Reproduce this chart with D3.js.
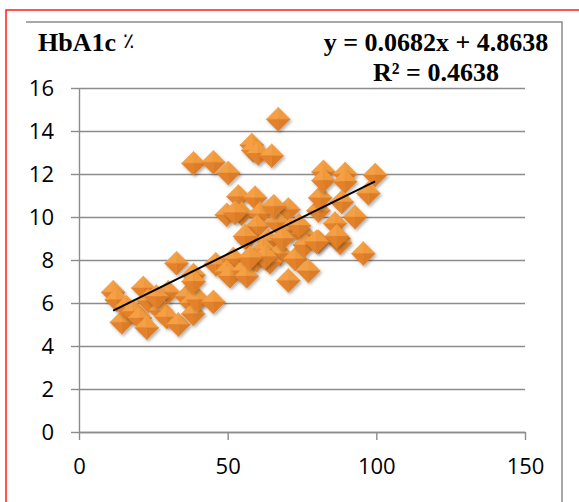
<!DOCTYPE html>
<html>
<head>
<meta charset="utf-8">
<script src="https://cdn.jsdelivr.net/npm/d3@7"></script>
<style>
  body { margin: 0; background: #fff; }
  svg { display: block; }
</style>
</head>
<body>
<div id="chart"></div>
<script>
// values
const xValues = [
  11.5, 12.7, 14.4, 16.0, 18.3, 20.5, 21.6, 23.3, 22.8, 27.5,
  29.5, 30.0, 33.4, 36.2, 37.9, 38.4, 40.1, 45.2, 32.8, 38.5,
  38.5, 46.0, 38.5, 45.2, 50.2, 58.1, 58.6, 60.3, 64.8, 67.0,
  49.7, 53.6, 54.7, 59.2, 60.9, 70.4, 59.8, 66.5, 56.4, 55.8,
  63.7, 62.0, 67.6, 72.7, 77.1, 51.9, 49.7, 50.8, 55.3, 59.8,
  64.2, 70.4, 56.4, 71.0, 75.4, 76.0, 62.6, 52.5, 80.5, 81.1,
  82.2, 82.2, 89.5, 89.5, 99.6, 97.3, 88.4, 92.8, 86.1, 87.2,
  87.8, 80.5, 95.6, 86.7, 79.9, 57.5, 68.5, 74.0, 65.5, 26.0
];
const yValues = [
  6.5, 6.15, 5.1, 5.8, 5.6, 5.3, 6.7, 6.1, 4.85, 5.65,
  5.35, 6.5, 5.0, 6.3, 6.0, 5.5, 6.15, 6.05, 7.85, 7.3,
  7.0, 7.8, 12.5, 12.55, 12.05, 13.35, 13.1, 12.95, 12.85, 14.55,
  10.1, 10.95, 10.15, 10.9, 10.15, 10.35, 9.55, 9.75, 9.0, 9.1,
  8.9, 8.5, 8.3, 8.05, 7.5, 8.05, 7.45, 7.25, 7.5, 8.0,
  7.9, 7.05, 7.25, 9.4, 9.2, 8.7, 8.15, 10.2, 10.3, 10.9,
  12.1, 11.7, 12.0, 11.65, 11.95, 11.1, 10.7, 10.0, 9.7, 9.0,
  8.8, 8.85, 8.3, 9.1, 8.85, 8.1, 9.0, 9.6, 10.5, 6.3
];
const xTicks = [0, 50, 100, 150];
const yTicks = [0, 2, 4, 6, 8, 10, 12, 14, 16];
const trendSlope = 0.0682;
const trendIntercept = 4.8638;
const rSquared = 0.4638;
const titleText = "HbA1c";
const titleUnit = "٪";

class Scatter {
  constructor(_config, _data) {
    this.config = {
      parentElement: _config.parentElement,
      containerWidth: _config.containerWidth || 579,
      containerHeight: _config.containerHeight || 502,
      margin: _config.margin || { top: 88, right: 54, bottom: 70, left: 79 },
      markerSize: _config.markerSize || 12
    };
    this.data = _data;
    this.initVis();
  }

  initVis() {
    let vis = this;

    vis.width = vis.config.containerWidth - vis.config.margin.left - vis.config.margin.right;
    vis.height = vis.config.containerHeight - vis.config.margin.top - vis.config.margin.bottom;

    vis.svg = d3
      .select(vis.config.parentElement)
      .append("svg")
      .attr("width", vis.config.containerWidth)
      .attr("height", vis.config.containerHeight);

    // drop shadow for the markers
    const shadow = vis.svg.append("defs")
      .append("filter")
      .attr("id", "shadow")
      .attr("x", "-50%").attr("y", "-50%")
      .attr("width", "200%").attr("height", "200%");
    shadow.append("feDropShadow")
      .attr("dx", 1.5).attr("dy", 2)
      .attr("stdDeviation", 1.6)
      .attr("flood-color", "#000")
      .attr("flood-opacity", 0.3);

    // chart frames
    vis.svg.append("path")
      .attr("d", `M6,502 V10 H579`)
      .attr("fill", "none")
      .attr("stroke", "#ff1a1a")
      .attr("stroke-width", 1.5);
    vis.svg.append("path")
      .attr("d", `M26,22 H562 V502`)
      .attr("fill", "none")
      .attr("stroke", "#8c8c8c")
      .attr("stroke-width", 1.5);

    vis.chart = vis.svg.append("g")
      .attr("transform", `translate(${vis.config.margin.left},${vis.config.margin.top})`);

    vis.xScale = d3.scaleLinear().domain([0, 150]).range([0, vis.width]);
    vis.yScale = d3.scaleLinear().domain([0, 16]).range([vis.height, 0]);

    vis.updateVis();
  }

  updateVis() {
    let vis = this;
    const grey = "#8c8c8c";

    // gridlines
    vis.chart.append("g")
      .call(d3.axisLeft(vis.yScale).tickValues(yTicks).tickSize(-vis.width).tickFormat(""))
      .call(g => g.select(".domain").remove())
      .call(g => g.selectAll("line").attr("stroke", grey).attr("stroke-width", 1.4));

    // y axis
    vis.chart.append("g")
      .call(d3.axisLeft(vis.yScale).tickValues(yTicks).tickSize(8).tickSizeOuter(0).tickPadding(17))
      .call(g => g.select(".domain").attr("stroke", grey).attr("stroke-width", 1.4))
      .call(g => g.selectAll("line").attr("stroke", grey).attr("stroke-width", 1.4))
      .call(g => g.selectAll("text")
        .attr("fill", "#000")
        .style("font-family", "'Open Sans', sans-serif")
        .style("font-size", "22px"));

    // x axis
    vis.chart.append("g")
      .attr("transform", `translate(0,${vis.height})`)
      .call(d3.axisBottom(vis.xScale).tickValues(xTicks).tickSize(8).tickSizeOuter(0).tickPadding(18))
      .call(g => g.select(".domain").attr("stroke", grey).attr("stroke-width", 1.4))
      .call(g => g.selectAll("line").attr("stroke", grey).attr("stroke-width", 1.4))
      .call(g => g.selectAll("text")
        .attr("fill", "#000")
        .style("font-family", "'Open Sans', sans-serif")
        .style("font-size", "22px"));

    // diamond markers, four shaded facets each
    const r = vis.config.markerSize;
    const facets = [
      { d: `M0,0 L${-r},0 L0,${-r} Z`, fill: "#f5a045" },
      { d: `M0,0 L0,${-r} L${r},0 Z`, fill: "#f09a3e" },
      { d: `M0,0 L${r},0 L0,${r} Z`, fill: "#dc7b27" },
      { d: `M0,0 L0,${r} L${-r},0 Z`, fill: "#e3822b" }
    ];

    const points = vis.chart.selectAll(".point")
      .data(vis.data)
      .enter()
      .append("g")
      .attr("class", "point")
      .attr("filter", "url(#shadow)")
      .attr("transform", d => `translate(${vis.xScale(d.x)},${vis.yScale(d.y)})`);

    points.selectAll("path")
      .data(facets)
      .enter()
      .append("path")
      .attr("d", f => f.d)
      .attr("fill", f => f.fill)
      .attr("stroke", f => f.fill)
      .attr("stroke-width", 0.4);

    // linear trendline over the range of the data
    const xMin = d3.min(vis.data, d => d.x);
    const xMax = d3.max(vis.data, d => d.x);
    const trend = [xMin, xMax].map(x => [vis.xScale(x), vis.yScale(trendSlope * x + trendIntercept)]);
    vis.chart.append("path")
      .attr("d", d3.line()(trend))
      .attr("fill", "none")
      .attr("stroke", "#000")
      .attr("stroke-width", 2);

    // title and equation
    const serif = "'Liberation Serif', 'Times New Roman', serif";
    const title = vis.svg.append("text")
      .attr("x", 38)
      .attr("y", 51)
      .style("font-family", serif)
      .style("font-weight", "bold")
      .style("font-size", "26px");
    title.append("tspan").text(titleText);
    title.append("tspan")
      .attr("dx", 7)
      .attr("dy", -3)
      .style("font-family", "'DejaVu Sans', sans-serif")
      .style("font-weight", "normal")
      .style("font-size", "21px")
      .text(titleUnit);

    vis.svg.append("text")
      .attr("x", 436)
      .attr("y", 51)
      .attr("text-anchor", "middle")
      .style("font-family", serif)
      .style("font-weight", "bold")
      .style("font-size", "26px")
      .text(`y = ${trendSlope}x + ${trendIntercept}`);

    vis.svg.append("text")
      .attr("x", 436)
      .attr("y", 81)
      .attr("text-anchor", "middle")
      .style("font-family", serif)
      .style("font-weight", "bold")
      .style("font-size", "26px")
      .text(`R² = ${rSquared}`);
  }
}

const data = xValues.map((x, i) => ({ x: x, y: yValues[i] }));
new Scatter({ parentElement: "#chart" }, data);
</script>
</body>
</html>
